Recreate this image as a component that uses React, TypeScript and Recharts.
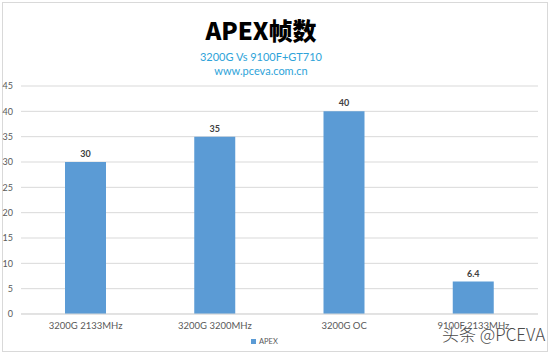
import React from "react";
import { BarChart, Bar, XAxis, YAxis, CartesianGrid, LabelList } from "recharts";

const categories = ["3200G 2133MHz", "3200G 3200MHz", "3200G OC", "9100F 2133MHz"];
const apexValues = [30, 35, 40, 6.4];
const yTicks = [0, 5, 10, 15, 20, 25, 30, 35, 40, 45];
const seriesName = "APEX";
const title = "APEX帧数";
const subtitle1 = "3200G Vs 9100F+GT710";
const subtitle2 = "www.pceva.com.cn";
const watermark = "头条 @PCEVA";

const data = categories.map((c, i) => ({ name: c, value: apexValues[i] }));

const font = "Lato, 'Open Sans', sans-serif";

export default function App() {
  return (
    <div
      style={{
        position: "fixed",
        left: 0,
        top: 0,
        width: 550,
        height: 355,
        background: "#fff",
        overflow: "hidden",
        fontFamily: font,
      }}
    >
      <div
        style={{
          position: "absolute",
          left: 2,
          top: 2,
          width: 546,
          height: 350,
          border: "1px solid #d9d9d9",
          boxSizing: "border-box",
        }}
      />
      <div style={{ position: "absolute", left: 0, top: 0 }}>
        <BarChart
          width={550}
          height={355}
          data={data}
          margin={{ top: 86, right: 12, bottom: 11, left: 0 }}
        >
          <CartesianGrid vertical={false} stroke="#d9d9d9" />
          <XAxis
            dataKey="name"
            height={30}
            axisLine={{ stroke: "#d9d9d9" }}
            tickLine={false}
            interval={0}
            tick={{ fontSize: 9.5, fill: "#595959", fontFamily: font }}
          />
          <YAxis
            width={21}
            domain={[0, 45]}
            ticks={yTicks}
            axisLine={false}
            tickLine={false}
            tick={{ fontSize: 9, fill: "#595959", fontFamily: font }}
          />
          <Bar dataKey="value" name={seriesName} fill="#5b9bd5" barSize={41} isAnimationActive={false}>
            <LabelList
              dataKey="value"
              position="top"
              offset={5}
              style={{ fontSize: 9, fontWeight: 700, fill: "#404040", fontFamily: font }}
            />
          </Bar>
        </BarChart>
      </div>
      <div
        style={{
          position: "absolute",
          left: 161,
          width: 200,
          top: 13,
          textAlign: "center",
          fontFamily: "'Noto Sans CJK SC', sans-serif",
          fontWeight: 900,
          fontSize: 24,
          lineHeight: "34px",
          color: "#000",
        }}
      >
        {title}
      </div>
      <div
        style={{
          position: "absolute",
          left: 161,
          width: 200,
          top: 50,
          textAlign: "center",
          fontSize: 11,
          lineHeight: "14px",
          color: "#2ea3d9",
        }}
      >
        <div>{subtitle1}</div>
        <div>{subtitle2}</div>
      </div>
      <div
        style={{
          position: "absolute",
          left: 251,
          top: 337,
          display: "flex",
          alignItems: "center",
          fontSize: 7.5,
          color: "#595959",
        }}
      >
        <span style={{ display: "inline-block", width: 5, height: 5, background: "#5b9bd5", marginRight: 3 }} />
        <span>{seriesName}</span>
      </div>
      <div
        style={{
          position: "absolute",
          left: 442,
          top: 323,
          fontFamily: "'Noto Sans CJK SC', sans-serif",
          fontWeight: 300,
          fontSize: 17,
          lineHeight: "22px",
          color: "#4a4a4a",
          whiteSpace: "nowrap",
          textShadow: "0 0 1px #fff",
        }}
      >
        {watermark}
      </div>
    </div>
  );
}
